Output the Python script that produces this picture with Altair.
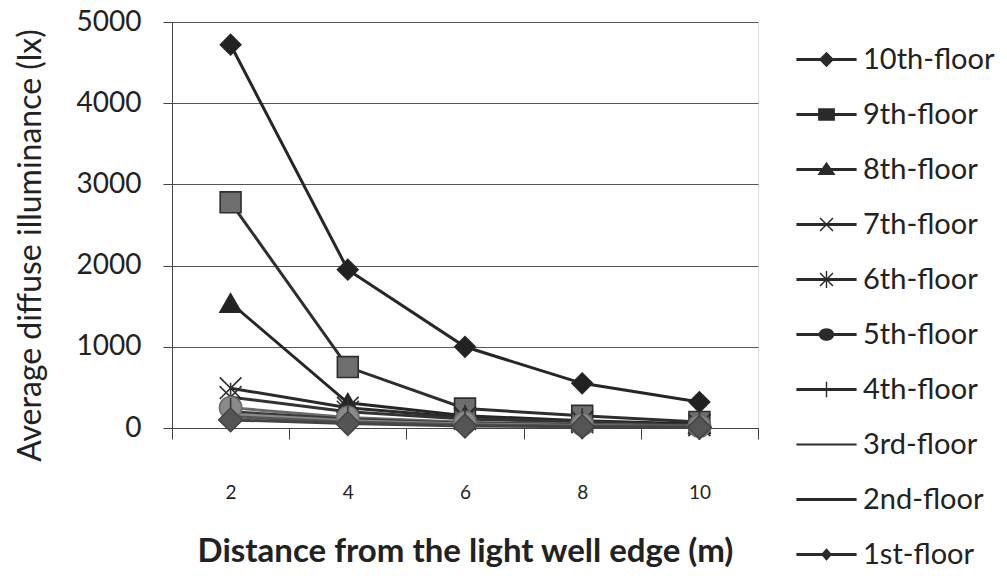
import altair as alt
import pandas as pd

distances = [2, 4, 6, 8, 10]
floors = ["10th-floor", "9th-floor", "8th-floor", "7th-floor", "6th-floor",
          "5th-floor", "4th-floor", "3rd-floor", "2nd-floor", "1st-floor"]

floor_10 = [4720, 1950, 1000, 550, 320]
floor_9 = [2780, 750, 240, 150, 75]
floor_8 = [1540, 310, 150, 90, 50]
floor_7 = [490, 250, 130, 80, 40]
floor_6 = [380, 200, 110, 70, 35]
floor_5 = [250, 130, 70, 45, 25]
floor_4 = [200, 110, 60, 40, 20]
floor_3 = [170, 90, 50, 30, 15]
floor_2 = [140, 75, 40, 25, 12]
floor_1 = [100, 55, 25, 15, 8]
series = [floor_10, floor_9, floor_8, floor_7, floor_6,
          floor_5, floor_4, floor_3, floor_2, floor_1]

rows = []
for f, vals in zip(floors, series):
    for d, v in zip(distances, vals):
        rows.append({"floor": f, "distance": d, "value": v})
df = pd.DataFrame(rows)

FONT = "Lato"
INK = "#222222"

line_colors = ["#262626", "#2e2e2e", "#262626", "#2a2a2a", "#333333",
               "#6b6b6b", "#3a3a3a", "#8a8a8a", "#555555", "#444444"]
line_widths = [3, 3, 3, 3, 3, 3, 3, 2.5, 3, 3]
marker_shapes = ["diamond", "square", "triangle-up",
                 "M-1,-1L1,1M-1,1L1,-1",
                 "M-1,-1L1,1M-1,1L1,-1M0,-1.3V1.3",
                 "circle", "M0,-1.2V1.2", "M0,0", "M0,0", "diamond"]
marker_sizes = [420, 560, 400, 480, 400, 300, 300, 4, 4, 220]
marker_fills = ["#222222", "#6e6e6e", "#222222", "#222222", "#222222",
                "#8a8a8a", "#222222", "#222222", "#222222", "#555555"]

# legend glyphs: a line segment plus the series marker, all drawn as filled shapes
bar = "M-4.3,-0.2H4.3V0.2H-4.3Z"
cross_x = "M-1,-0.85L-0.85,-1L1,0.85L0.85,1ZM-1,0.85L0.85,-1L1,-0.85L-0.85,1Z"
legend_paths = [
    bar + "M0,-1.1L1.1,0L0,1.1L-1.1,0Z",
    bar + "M-1.2,-0.9H1.2V0.9H-1.2Z",
    bar + "M0,-1.1L1.3,0.8H-1.3Z",
    bar + cross_x,
    bar + cross_x + "M-0.1,-1.2H0.1V1.2H-0.1Z",
    bar + "M-1.1,0A1.1,0.9 0 1,1 1.1,0A1.1,0.9 0 1,1 -1.1,0Z",
    bar + "M-0.1,-1.1H0.1V1.1H-0.1Z",
    "M-4.3,-0.15H4.3V0.15H-4.3Z",
    bar,
    bar + "M0,-0.9L0.8,0L0,0.9L-0.8,0Z",
]

x_enc = alt.X(
    "distance:O",
    scale=alt.Scale(type="band", paddingInner=0, paddingOuter=0),
    axis=alt.Axis(
        title="Distance from the light well edge (m)",
        labelAngle=0, tickBand="extent", tickSize=11, labelPadding=44,
        labelFontSize=19, labelFont=FONT, labelColor=INK,
        titleFont=FONT, titleFontSize=33, titleFontWeight="bold", titleColor=INK,
        titleX=293, titleY=123, titleBaseline="middle", titleAlign="center",
        domainColor="#444444", tickColor="#444444", grid=False,
    ),
)
y_enc = alt.Y(
    "value:Q",
    scale=alt.Scale(domain=[0, 5000], nice=False),
    axis=alt.Axis(
        title="Average diffuse illuminance (lx)", format="d",
        values=[0, 1000, 2000, 3000, 4000, 5000], tickSize=9, labelPadding=22,
        labelFontSize=28, labelFont=FONT, labelColor=INK,
        titleFont=FONT, titleFontSize=32, titleFontWeight="normal", titleColor=INK,
        titleX=-142, titleY=223, titleAngle=-90, titleBaseline="middle", titleAlign="center",
        domainColor="#444444", tickColor="#444444", gridColor="#555555", gridWidth=1.2,
    ),
)

base = alt.Chart(df).encode(x=x_enc, y=y_enc)

lines = base.mark_line().encode(
    color=alt.Color("floor:N", scale=alt.Scale(domain=floors, range=line_colors), legend=None),
    strokeWidth=alt.StrokeWidth("floor:N", scale=alt.Scale(domain=floors, range=line_widths), legend=None),
    detail="floor:N",
)

points = base.mark_point(filled=True, opacity=1, strokeWidth=1.6).encode(
    shape=alt.Shape("floor:N", scale=alt.Scale(domain=floors, range=marker_shapes), legend=None),
    size=alt.Size("floor:N", scale=alt.Scale(domain=floors, range=marker_sizes), legend=None),
    fill=alt.Fill("floor:N", scale=alt.Scale(domain=floors, range=marker_fills), legend=None),
    stroke=alt.Stroke("floor:N", scale=alt.Scale(domain=floors, range=line_colors), legend=None),
)

legend_layer = base.mark_point(filled=True, color="#2a2a2a", opacity=1).encode(
    shape=alt.Shape(
        "floor:N",
        scale=alt.Scale(domain=floors, range=legend_paths),
        legend=alt.Legend(
            title=None, orient="none", legendX=640, legendY=23,
            symbolSize=196, symbolFillColor="#2a2a2a", symbolStrokeWidth=0,
            symbolOpacity=1, labelOffset=22, rowPadding=25,
            labelFont=FONT, labelFontSize=29, labelColor=INK, labelLimit=300,
        ),
    ),
).transform_filter("false")

chart = alt.layer(lines, points, legend_layer).resolve_scale(
    shape="independent"
).properties(
    width=586, height=406,
    padding={"left": 164, "top": 14, "right": 241, "bottom": 140},
    autosize=alt.AutoSizeParams(type="none"),
).configure_view(stroke=None).configure(background="white")

chart.save("out.html", embed_options={"renderer": "svg", "actions": False})
